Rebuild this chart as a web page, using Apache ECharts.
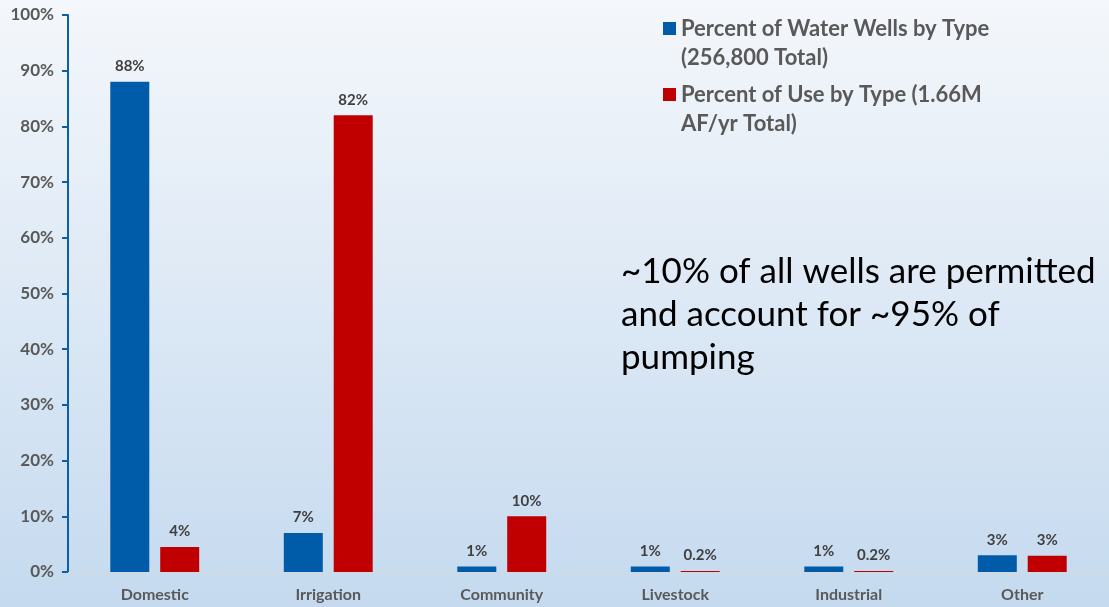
<!DOCTYPE html>
<html>
<head>
<meta charset="utf-8">
<script src="https://cdn.jsdelivr.net/npm/echarts@6/dist/echarts.min.js"></script>
<style>
html,body{margin:0;padding:0;}
#c{width:1109px;height:607px;}
</style>
</head>
<body>
<div id="c"></div>
<script>
const categories = ['Domestic', 'Irrigation', 'Community', 'Livestock', 'Industrial', 'Other'];
const wellsValues = [88, 7, 1, 1, 1, 3];
const wellsLabels = ['88%', '7%', '1%', '1%', '1%', '3%'];
const useValues = [4.5, 82, 10, 0.2, 0.2, 2.9];
const useLabels = ['4%', '82%', '10%', '0.2%', '0.2%', '3%'];
const seriesNames = ['Percent of Water Wells by Type (256,800 Total)', 'Percent of Use by Type (1.66M AF/yr Total)'];
const legendText = ['Percent of Water Wells by Type\n(256,800 Total)', 'Percent of Use by Type (1.66M\nAF/yr Total)'];
const annotation = '~10% of all wells are permitted\nand account for ~95% of\npumping';

const FONT = 'Lato, "Open Sans", sans-serif';
const chart = echarts.init(document.getElementById('c'));
const labelStyle = (arr) => ({
  show: true, position: 'top', distance: 8,
  formatter: p => arr[p.dataIndex],
  fontFamily: FONT, fontWeight: 'bold', fontSize: 15, color: '#404040'
});
chart.setOption({
  backgroundColor: {
    type: 'linear', x: 0, y: 0, x2: 0, y2: 1,
    colorStops: [{offset: 0, color: '#f4f7fb'}, {offset: 1, color: '#c5daef'}]
  },
  grid: {left: 68, right: 0, top: 15, bottom: 35},
  legend: {
    orient: 'vertical', left: 663, top: -15, itemWidth: 13, itemHeight: 13, itemGap: -21,
    icon: 'rect', padding: 0,
    // a leading blank line keeps the first text line level with the square
    formatter: n => ' \n' + legendText[seriesNames.indexOf(n)],
    textStyle: {fontFamily: FONT, fontWeight: 'bold', fontSize: 22, color: '#595959', lineHeight: 29}
  },
  xAxis: {
    type: 'category', data: categories,
    axisLine: {lineStyle: {color: '#d4d9de', width: 1}},
    axisTick: {show: true, length: 5, lineStyle: {color: '#d4d9de'}},
    axisLabel: {fontFamily: FONT, fontWeight: 'bold', fontSize: 16, color: '#595959', margin: 15}
  },
  yAxis: {
    type: 'value', min: 0, max: 100, interval: 10,
    axisLine: {show: true, lineStyle: {color: '#0b5ea8', width: 2}},
    axisTick: {show: true, length: 6, lineStyle: {color: '#0b5ea8', width: 2}},
    splitLine: {show: false},
    axisLabel: {formatter: '{value}%', fontFamily: FONT, fontWeight: 'bold', fontSize: 17, color: '#595959', margin: 14}
  },
  graphic: [{
    type: 'text', left: 621, top: 250,
    style: {text: annotation, fontFamily: FONT, fontSize: 35, fill: '#000', lineHeight: 43}
  }],
  series: [
    {name: seriesNames[0], type: 'bar', data: wellsValues, barWidth: 39, barGap: '28%',
     itemStyle: {color: '#005ba8'}, label: labelStyle(wellsLabels)},
    {name: seriesNames[1], type: 'bar', data: useValues, barWidth: 39,
     itemStyle: {color: '#c00000'}, label: labelStyle(useLabels)}
  ]
});
</script>
</body>
</html>
